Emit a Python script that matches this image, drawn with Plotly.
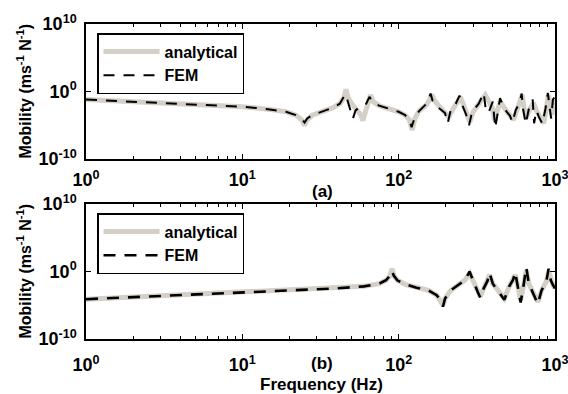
import numpy as np
import plotly.graph_objects as go

# ---------------- Panel (a) ----------------
a_freq_analytical = [1, 2, 5, 10, 15, 19, 22, 24, 25, 26, 28, 32, 38, 42, 44.5, 46, 47.5, 50, 54, 57, 59, 61,
                     63.5, 66, 68.5, 75, 88, 100, 110, 117, 122, 127, 135, 150, 158, 163, 170, 185, 200, 209,
                     220, 235, 248, 260, 275, 285, 300, 330, 358, 380, 400, 410, 425, 447, 480, 520, 542, 570,
                     600, 617, 635, 656, 690, 728, 760, 800, 847, 880, 908, 935, 955, 975, 1000]
a_log_mob_analytical = [-1.2, -1.5, -1.9, -2.25, -2.65, -3.0, -3.5, -4.2, -5.0, -4.2, -3.5, -3.0, -2.4, -1.8, -1.0,
                        0.3, -0.9, -1.8, -2.6, -3.4, -4.3, -3.2, -2.0, -0.5, -1.5, -2.1, -2.6, -3.0, -3.5, -4.2,
                        -5.7, -4.0, -2.9, -2.0, -1.2, -0.5, -1.4, -2.4, -3.2, -3.8, -2.8, -1.8, -0.8, -2.0, -3.4,
                        -4.5, -3.0, -1.8, -0.5, -1.6, -2.6, -4.2, -3.0, -1.5, -2.6, -3.6, -4.2, -2.8, -1.6, -0.5,
                        -2.6, -3.9, -2.6, -1.7, -2.8, -3.8, -4.7, -2.5, -0.5, -2.0, -3.5, -2.0, -1.3]

a_freq_fem = [1, 2, 5, 10, 15, 19, 22, 24, 25, 26, 28, 32, 38, 42, 44, 45.5, 47, 49, 51, 53, 57, 62, 65, 68,
              75, 88, 100, 110, 117, 121, 126, 135, 148, 155, 160, 165, 180, 198, 206, 215, 232, 245, 255,
              270, 282, 295, 325, 350, 360, 375, 390, 400, 415, 430, 445, 475, 515, 535, 560, 595, 612, 625,
              650, 680, 720, 735, 760, 790, 830, 870, 900, 920, 945, 970, 990, 1000]
a_log_mob_fem = [-1.2, -1.5, -1.9, -2.25, -2.65, -3.0, -3.5, -4.1, -4.6, -4.0, -3.5, -3.0, -2.4, -1.8, -1.1,
                 -0.4, -1.3, -2.6, -4.0, -2.8, -2.2, -1.8, -0.8, -1.5, -2.1, -2.6, -3.0, -3.5, -4.2, -5.3,
                 -4.0, -2.9, -2.0, -1.2, -0.3, -1.4, -2.4, -3.2, -4.7, -2.8, -1.8, -0.6, -2.0, -3.4, -5.0,
                 -3.0, -1.8, -0.2, -2.5, -3.2, -2.2, -1.5, -5.4, -3.0, -1.0, -2.6, -3.6, -4.6, -2.8, -1.6,
                 -0.3, -2.6, -4.8, -2.6, -1.2, -4.7, -2.8, -3.8, -4.8, -2.5, -0.2, -2.0, -4.0, -1.2, -0.9, -1.3]

# ---------------- Panel (b) ----------------
b_freq_analytical = [1, 3, 10, 20, 40, 60, 75, 83, 88, 91, 93, 98, 110, 130, 155, 175, 186, 192, 198, 215,
                     240, 265, 285, 300, 320, 333, 350, 370, 382, 400, 440, 474, 510, 540, 557, 580, 603,
                     630, 656, 680, 730, 776, 820, 880, 912, 940, 970, 1000]
b_log_mob_analytical = [-4.1, -3.6, -3.1, -2.8, -2.5, -2.2, -1.8, -1.3, -0.6, 0.4, -0.6, -1.3, -1.9, -2.4,
                        -2.8, -3.5, -4.3, -5.0, -4.0, -2.8, -2.0, -1.3, -0.3, -1.5, -3.0, -3.7, -2.5, -1.4,
                        -0.5, -1.8, -3.2, -4.0, -2.2, -1.2, -0.5, -2.3, -4.3, -2.0, 0.2, -1.8, -3.3, -4.5,
                        -2.8, -1.5, 0.0, -1.3, -2.0, -2.5]

b_freq_fem = [1, 3, 10, 20, 40, 60, 75, 83, 88, 90.5, 93, 98, 110, 130, 155, 175, 186, 192, 198, 215, 240,
              265, 284, 300, 320, 333, 350, 370, 381, 400, 440, 474, 510, 540, 556, 580, 603, 630, 655, 680,
              730, 776, 820, 880, 910, 925, 940, 970, 1000]
b_log_mob_fem = [-4.1, -3.6, -3.1, -2.8, -2.5, -2.2, -1.8, -1.3, -0.6, 0.1, -0.6, -1.3, -1.9, -2.4, -2.8,
                 -3.5, -4.3, -5.2, -4.0, -2.8, -2.0, -1.3, 0.0, -1.5, -3.0, -3.9, -2.5, -1.4, -0.2, -1.8,
                 -3.2, -4.2, -2.2, -1.2, -0.1, -2.3, -4.6, -2.0, 0.6, -1.8, -3.3, -4.8, -2.8, -1.5, 0.4,
                 -0.6, -1.3, -2.0, -2.5]

legend_labels = ["analytical", "FEM"]
x_tick_vals = [1, 10, 100, 999.99]
x_tick_text = ["10<sup>0</sup>", "10<sup>1</sup>", "10<sup>2</sup>", "10<sup>3</sup>"]
y_tick_vals = [1e-10, 1, 1e10]
y_tick_text = ["10<sup>-10</sup>", "10<sup>0</sup>", "10<sup>10</sup>"]
minor_x = [m * d for d in (1, 10, 100) for m in range(2, 10)]

GREY = "#d4d0c8"
W, H = 568, 394


def mob(vals):
    return np.power(10.0, np.array(vals, dtype=float))


fig = go.Figure()
fig.add_trace(go.Scatter(x=a_freq_analytical, y=mob(a_log_mob_analytical), mode="lines",
                         line=dict(color=GREY, width=5), name=legend_labels[0],
                         xaxis="x", yaxis="y", legend="legend", legendgroup="a1"))
fig.add_trace(go.Scatter(x=a_freq_fem, y=mob(a_log_mob_fem), mode="lines",
                         line=dict(color="black", width=2, dash="11px,9px"), name=legend_labels[1],
                         xaxis="x", yaxis="y", legend="legend", legendgroup="a2"))
fig.add_trace(go.Scatter(x=b_freq_analytical, y=mob(b_log_mob_analytical), mode="lines",
                         line=dict(color=GREY, width=5), name=legend_labels[0],
                         xaxis="x2", yaxis="y2", legend="legend2", legendgroup="b1"))
fig.add_trace(go.Scatter(x=b_freq_fem, y=mob(b_log_mob_fem), mode="lines",
                         line=dict(color="black", width=2.6, dash="12px,9px"), name=legend_labels[1],
                         xaxis="x2", yaxis="y2", legend="legend2", legendgroup="b2"))

xdom = [86 / W, 555 / W]
ydom_a = [1 - 159 / H, 1 - 24 / H]
ydom_b = [1 - 339 / H, 1 - 204 / H]

common_x = dict(type="log", range=[0, 3], tickvals=x_tick_vals, ticktext=x_tick_text,
                ticks="inside", ticklen=5, tickwidth=1, tickcolor="black",
                showline=True, linecolor="black", linewidth=1.5, mirror="allticks",
                showgrid=False, zeroline=False, tickfont=dict(size=18), automargin=False,
                ticklabeloverflow="allow",
                minor=dict(tickvals=minor_x, ticks="inside", ticklen=3, tickcolor="black", showgrid=False),
                domain=xdom)
common_y = dict(type="log", range=[-10, 10], tickvals=y_tick_vals, ticktext=y_tick_text,
                ticks="inside", ticklen=5, tickwidth=1, tickcolor="black",
                showline=True, linecolor="black", linewidth=1.5, mirror="ticks", automargin=False,
                showgrid=False, zeroline=False, tickfont=dict(size=18), ticklabelstandoff=4)

legend_common = dict(xanchor="left", yanchor="top", bordercolor="black", borderwidth=1.5,
                     bgcolor="white", itemwidth=56, tracegroupgap=0,
                     font=dict(size=16, weight="bold"))

fig.update_layout(
    width=W, height=H, autosize=False,
    margin=dict(l=0, r=0, t=0, b=0, pad=0, autoexpand=False),
    paper_bgcolor="white", plot_bgcolor="white",
    font=dict(family="Liberation Sans, Arial, sans-serif", size=16, color="black", weight="bold"),
    xaxis=dict(common_x, anchor="y", ticklabelstandoff=4),
    yaxis=dict(common_y, anchor="x", domain=ydom_a),
    xaxis2=dict(common_x, anchor="y2", ticklabelstandoff=9),
    yaxis2=dict(common_y, anchor="x2", domain=ydom_b),
    legend=dict(legend_common, x=97 / W, y=1 - 33 / H),
    legend2=dict(legend_common, x=97 / W, y=1 - 213 / H),
    annotations=[
        dict(text="Mobility (ms<sup>-1</sup> N<sup>-1</sup>)", textangle=-90, x=24 / W,
             y=(ydom_a[0] + ydom_a[1]) / 2, xanchor="center", yanchor="middle",
             xref="paper", yref="paper", showarrow=False, font=dict(size=16)),
        dict(text="Mobility (ms<sup>-1</sup> N<sup>-1</sup>)", textangle=-90, x=24 / W,
             y=(ydom_b[0] + ydom_b[1]) / 2, xanchor="center", yanchor="middle",
             xref="paper", yref="paper", showarrow=False, font=dict(size=16)),
        dict(text="(a)", x=322 / W, y=1 - 191 / H, xanchor="center", yanchor="middle",
             xref="paper", yref="paper", showarrow=False, font=dict(size=17)),
        dict(text="(b)", x=322 / W, y=1 - 363 / H, xanchor="center", yanchor="middle",
             xref="paper", yref="paper", showarrow=False, font=dict(size=17)),
        dict(text="Frequency (Hz)", x=321 / W, y=1 - 384 / H, xanchor="center", yanchor="middle",
             xref="paper", yref="paper", showarrow=False, font=dict(size=17)),
    ],
)

fig.write_html("out.html", config={"displayModeBar": False},
               post_script="document.body.style.margin='0px';")
